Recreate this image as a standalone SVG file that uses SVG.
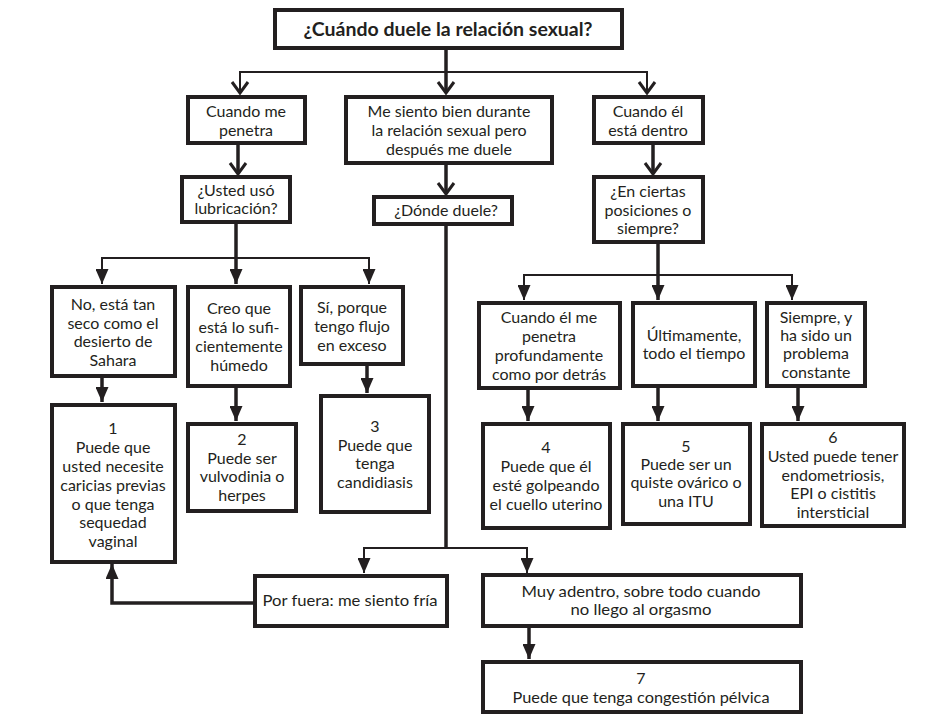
<svg xmlns="http://www.w3.org/2000/svg" width="950" height="720" viewBox="0 0 950 720">
<style>
.b{fill:#fff;stroke:#231f20;stroke-width:4}
.t{font-family:Lato,"Open Sans","Liberation Sans",sans-serif;font-size:16px;fill:#231f20;text-anchor:middle}
.h{font-weight:bold;font-size:19.5px}
.c{stroke:#231f20;fill:none;stroke-width:3.5}
.n{stroke:#231f20;fill:none;stroke-width:2}
</style>
<defs>
<marker id="tri" markerUnits="userSpaceOnUse" markerWidth="15" markerHeight="13" refX="15" refY="6.5" orient="auto"><path d="M0,0 L15,6.5 L0,13 z" fill="#231f20"/></marker>
<marker id="chev" markerUnits="userSpaceOnUse" markerWidth="14" markerHeight="20" refX="12" refY="10" orient="auto"><path d="M1,2 L12,10 L1,18" fill="none" stroke="#231f20" stroke-width="3"/></marker>
</defs>
<rect width="950" height="720" fill="#fff"/>
<g id="connectors">
<path class="c" d="M446,48 V93" marker-end="url(#chev)"/>
<path class="n" d="M240,93 V72 H647 V93"/>
<path class="n" d="M240,80 V93" marker-end="url(#chev)"/>
<path class="n" d="M647,80 V93" marker-end="url(#chev)"/>
<path class="c" d="M238,143 V174" marker-end="url(#chev)"/>
<path class="c" d="M446,164 V194" marker-end="url(#chev)"/>
<path class="c" d="M653,143 V174" marker-end="url(#chev)"/>
<path class="c" d="M236,223 V284" marker-end="url(#tri)"/>
<path class="n" d="M102,284 V258 H369 V284"/>
<path class="n" d="M102,270 V284" marker-end="url(#tri)"/>
<path class="n" d="M369,270 V284" marker-end="url(#tri)"/>
<path class="c" d="M102,377 V402" marker-end="url(#tri)"/>
<path class="c" d="M236,387 V421" marker-end="url(#tri)"/>
<path class="c" d="M367,365 V393" marker-end="url(#tri)"/>
<path class="c" d="M658,243 V300" marker-end="url(#tri)"/>
<path class="n" d="M524,300 V275 H792 V300"/>
<path class="n" d="M524,288 V300" marker-end="url(#tri)"/>
<path class="n" d="M792,288 V300" marker-end="url(#tri)"/>
<path class="c" d="M528,389 V421" marker-end="url(#tri)"/>
<path class="c" d="M658,387 V421" marker-end="url(#tri)"/>
<path class="c" d="M798,387 V421" marker-end="url(#tri)"/>
<path class="c" d="M446,225 V548"/>
<path class="n" d="M364,573 V548 H527 V573"/>
<path class="n" d="M364,560 V573" marker-end="url(#tri)"/>
<path class="n" d="M527,560 V573" marker-end="url(#tri)"/>
<path class="c" d="M529,627 V659" marker-end="url(#tri)"/>
<path class="c" d="M253,603 H112 V564" marker-end="url(#tri)"/>
</g>
<g id="title"><rect class="b" x="275" y="10" width="347" height="38"/><text class="t h" x="448" y="36">¿Cuándo duele la relación sexual?</text></g>
<g id="n-penetra"><rect class="b" x="188" y="97" width="117" height="46"/><text class="t" x="246"><tspan x="246" y="117">Cuando me</tspan><tspan x="246" y="136">penetra</tspan></text></g>
<g id="n-despues"><rect class="b" x="346" y="97" width="206" height="66"/><text class="t" x="449"><tspan x="449" y="117">Me siento bien durante</tspan><tspan x="449" y="136">la relación sexual pero</tspan><tspan x="449" y="155">después me duele</tspan></text></g>
<g id="n-dentro"><rect class="b" x="594" y="97" width="109" height="46"/><text class="t" x="648"><tspan x="648" y="117">Cuando él</tspan><tspan x="648" y="136">está dentro</tspan></text></g>
<g id="n-lubric"><rect class="b" x="182" y="177" width="108" height="45"/><text class="t" x="236"><tspan x="236" y="196">¿Usted usó</tspan><tspan x="236" y="214">lubricación?</tspan></text></g>
<g id="n-donde"><rect class="b" x="374" y="197" width="138" height="27"/><text class="t" x="446" y="216">¿Dónde duele?</text></g>
<g id="n-posic"><rect class="b" x="594" y="177" width="109" height="65"/><text class="t" x="648"><tspan x="648" y="197">¿En ciertas</tspan><tspan x="648" y="216">posiciones o</tspan><tspan x="648" y="234">siempre?</tspan></text></g>
<g id="n-seco"><rect class="b" x="52" y="287" width="123" height="89"/><text class="t" x="113"><tspan x="113" y="310">No, está tan</tspan><tspan x="113" y="329">seco como el</tspan><tspan x="113" y="347">desierto de</tspan><tspan x="113" y="366">Sahara</tspan></text></g>
<g id="n-humedo"><rect class="b" x="188" y="287" width="102" height="99"/><text class="t" x="239"><tspan x="239" y="314">Creo que</tspan><tspan x="239" y="333">está lo sufi-</tspan><tspan x="239" y="352">cientemente</tspan><tspan x="239" y="371">húmedo</tspan></text></g>
<g id="n-flujo"><rect class="b" x="301" y="287" width="102" height="77"/><text class="t" x="352"><tspan x="352" y="313">Sí, porque</tspan><tspan x="352" y="332">tengo flujo</tspan><tspan x="352" y="351">en exceso</tspan></text></g>
<g id="n-1"><rect class="b" x="52" y="405" width="123" height="157"/><text class="t" x="113"><tspan x="113" y="434">1</tspan><tspan x="113" y="453">Puede que</tspan><tspan x="113" y="472">usted necesite</tspan><tspan x="113" y="491">caricias previas</tspan><tspan x="113" y="510">o que tenga</tspan><tspan x="113" y="528">sequedad</tspan><tspan x="113" y="547">vaginal</tspan></text></g>
<g id="n-2"><rect class="b" x="188" y="424" width="108" height="87"/><text class="t" x="242"><tspan x="242" y="445">2</tspan><tspan x="242" y="464">Puede ser</tspan><tspan x="242" y="482">vulvodinia o</tspan><tspan x="242" y="501">herpes</tspan></text></g>
<g id="n-3"><rect class="b" x="321" y="396" width="108" height="116"/><text class="t" x="375"><tspan x="375" y="432">3</tspan><tspan x="375" y="451">Puede que</tspan><tspan x="375" y="469">tenga</tspan><tspan x="375" y="488">candidiasis</tspan></text></g>
<g id="n-profundo"><rect class="b" x="479" y="303" width="141" height="85"/><text class="t" x="549"><tspan x="549" y="323">Cuando él me</tspan><tspan x="549" y="342">penetra</tspan><tspan x="549" y="361">profundamente</tspan><tspan x="549" y="380">como por detrás</tspan></text></g>
<g id="n-ultim"><rect class="b" x="633" y="303" width="122" height="83"/><text class="t" x="694"><tspan x="694" y="341">Últimamente,</tspan><tspan x="694" y="359">todo el tiempo</tspan></text></g>
<g id="n-siempre"><rect class="b" x="767" y="303" width="98" height="83"/><text class="t" x="816"><tspan x="816" y="323">Siempre, y</tspan><tspan x="816" y="341">ha sido un</tspan><tspan x="816" y="359">problema</tspan><tspan x="816" y="378">constante</tspan></text></g>
<g id="n-4"><rect class="b" x="483" y="424" width="127" height="104"/><text class="t" x="546"><tspan x="546" y="453">4</tspan><tspan x="546" y="472">Puede que él</tspan><tspan x="546" y="491">esté golpeando</tspan><tspan x="546" y="510">el cuello uterino</tspan></text></g>
<g id="n-5"><rect class="b" x="623" y="424" width="127" height="100"/><text class="t" x="686"><tspan x="686" y="452">5</tspan><tspan x="686" y="470">Puede ser un</tspan><tspan x="686" y="488">quiste ovárico o</tspan><tspan x="686" y="507">una ITU</tspan></text></g>
<g id="n-6"><rect class="b" x="762" y="424" width="142" height="102"/><text class="t" x="833"><tspan x="833" y="443">6</tspan><tspan x="833" y="462">Usted puede tener</tspan><tspan x="833" y="481">endometriosis,</tspan><tspan x="833" y="499">EPI o cistitis</tspan><tspan x="833" y="518">intersticial</tspan></text></g>
<g id="n-fuera"><rect class="b" x="255" y="576" width="192" height="50"/><text class="t" x="350" y="606" textLength="175" lengthAdjust="spacingAndGlyphs">Por fuera: me siento fría</text></g>
<g id="n-adentro"><rect class="b" x="483" y="575" width="318" height="51"/><text class="t"><tspan x="641" y="597" textLength="239" lengthAdjust="spacingAndGlyphs">Muy adentro, sobre todo cuando</tspan><tspan x="641" y="615" textLength="141" lengthAdjust="spacingAndGlyphs">no llego al orgasmo</tspan></text></g>
<g id="n-7"><rect class="b" x="483" y="662" width="318" height="50"/><text class="t"><tspan x="641" y="684">7</tspan><tspan x="641" y="703" textLength="257" lengthAdjust="spacingAndGlyphs">Puede que tenga congestión pélvica</tspan></text></g>
</svg>
